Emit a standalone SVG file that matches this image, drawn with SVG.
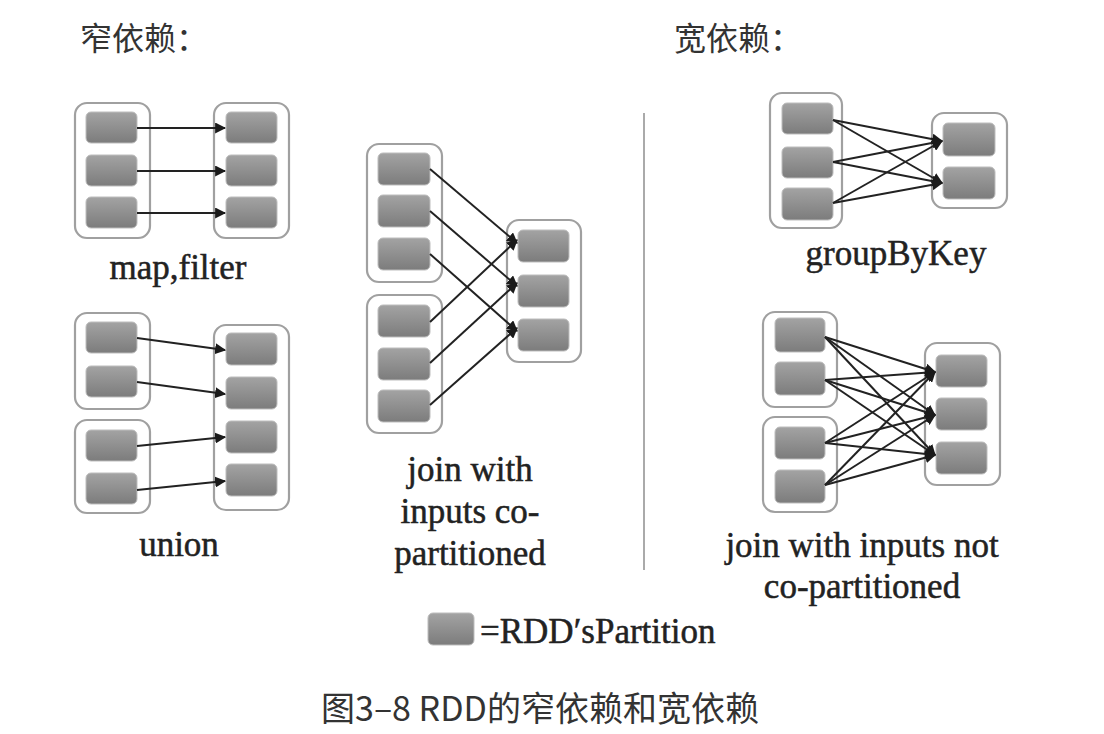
<svg xmlns="http://www.w3.org/2000/svg" width="1104" height="734" viewBox="0 0 1104 734">
<defs>
<linearGradient id="pg" x1="0" y1="0" x2="0" y2="1">
<stop offset="0" stop-color="#a3a3a3"/>
<stop offset="1" stop-color="#7c7c7c"/>
</linearGradient>
<marker id="ah" viewBox="0 0 10 10" refX="9" refY="5" markerWidth="5.5" markerHeight="5.5" orient="auto" markerUnits="strokeWidth">
<path d="M0,0 L10,5 L0,10 z" fill="#1a1a1a"/>
</marker>
<style>
.c{fill:#fff;stroke:#a0a0a0;stroke-width:2.2}
.p{fill:url(#pg);stroke:#bdbdbd;stroke-width:1}
.e{stroke:#222;stroke-width:2;fill:none;marker-end:url(#ah)}
.t{font-family:"Liberation Serif","Times New Roman",serif;font-size:35px;fill:#222;stroke:#222;stroke-width:0.5;text-anchor:middle}
.h{font-family:"Noto Sans CJK SC",sans-serif;font-size:32px;fill:#333}
</style>
</defs>
<rect width="1104" height="734" fill="#fff"/>

<text class="h" x="80" y="50">窄依赖：</text>
<text class="h" x="674" y="50">宽依赖：</text>

<!-- map,filter -->
<g id="mapfilter-src">
<rect class="c" x="75" y="103" width="75" height="135" rx="12"/>
<rect class="p" x="86" y="112" width="51" height="31" rx="5"/>
<rect class="p" x="86" y="155" width="51" height="31" rx="5"/>
<rect class="p" x="86" y="197" width="51" height="31" rx="5"/>
</g>
<g id="mapfilter-dst">
<rect class="c" x="214" y="103" width="75" height="135" rx="12"/>
<rect class="p" x="226" y="112" width="51" height="31" rx="5"/>
<rect class="p" x="226" y="155" width="51" height="31" rx="5"/>
<rect class="p" x="226" y="197" width="51" height="31" rx="5"/>
</g>

<!-- union -->
<g id="union-src1">
<rect class="c" x="75" y="313" width="75" height="96" rx="12"/>
<rect class="p" x="86" y="322" width="51" height="31" rx="5"/>
<rect class="p" x="86" y="366" width="51" height="31" rx="5"/>
</g>
<g id="union-src2">
<rect class="c" x="75" y="420" width="75" height="93" rx="12"/>
<rect class="p" x="86" y="430" width="51" height="31" rx="5"/>
<rect class="p" x="86" y="473" width="51" height="31" rx="5"/>
</g>
<g id="union-dst">
<rect class="c" x="214" y="325" width="75" height="185" rx="12"/>
<rect class="p" x="226" y="333" width="51" height="32" rx="5"/>
<rect class="p" x="226" y="377" width="51" height="32" rx="5"/>
<rect class="p" x="226" y="421" width="51" height="32" rx="5"/>
<rect class="p" x="226" y="464" width="51" height="32" rx="5"/>
</g>

<!-- join co-partitioned -->
<g id="joinco-src1">
<rect class="c" x="367" y="144" width="75" height="138" rx="12"/>
<rect class="p" x="378" y="153" width="52" height="32" rx="5"/>
<rect class="p" x="378" y="195" width="52" height="32" rx="5"/>
<rect class="p" x="378" y="238" width="52" height="32" rx="5"/>
</g>
<g id="joinco-src2">
<rect class="c" x="367" y="295" width="75" height="138" rx="12"/>
<rect class="p" x="378" y="305" width="52" height="32" rx="5"/>
<rect class="p" x="378" y="348" width="52" height="32" rx="5"/>
<rect class="p" x="378" y="390" width="52" height="32" rx="5"/>
</g>
<g id="joinco-dst">
<rect class="c" x="507" y="220" width="74" height="142" rx="12"/>
<rect class="p" x="518" y="230" width="51" height="32" rx="5"/>
<rect class="p" x="518" y="275" width="51" height="32" rx="5"/>
<rect class="p" x="518" y="319" width="51" height="32" rx="5"/>
</g>

<!-- groupByKey -->
<g id="gbk-src">
<rect class="c" x="770" y="93" width="72" height="135" rx="12"/>
<rect class="p" x="782" y="103" width="51" height="31" rx="5"/>
<rect class="p" x="782" y="147" width="51" height="31" rx="5"/>
<rect class="p" x="782" y="188" width="51" height="32" rx="5"/>
</g>
<g id="gbk-dst">
<rect class="c" x="932" y="113" width="75" height="95" rx="12"/>
<rect class="p" x="943" y="123" width="52" height="33" rx="5"/>
<rect class="p" x="943" y="167" width="52" height="32" rx="5"/>
</g>

<!-- join not co-partitioned -->
<g id="joinnc-src1">
<rect class="c" x="763" y="312" width="74" height="95" rx="12"/>
<rect class="p" x="775" y="318" width="50" height="34" rx="5"/>
<rect class="p" x="775" y="362" width="50" height="33" rx="5"/>
</g>
<g id="joinnc-src2">
<rect class="c" x="763" y="417" width="74" height="95" rx="12"/>
<rect class="p" x="775" y="427" width="50" height="32" rx="5"/>
<rect class="p" x="775" y="470" width="50" height="33" rx="5"/>
</g>
<g id="joinnc-dst">
<rect class="c" x="925" y="343" width="75" height="142" rx="12"/>
<rect class="p" x="936" y="355" width="51" height="32" rx="5"/>
<rect class="p" x="936" y="398" width="51" height="32" rx="5"/>
<rect class="p" x="936" y="442" width="51" height="32" rx="5"/>
</g>

<g id="connectors">
<line class="e" x1="137" y1="128" x2="225" y2="128"/>
<line class="e" x1="137" y1="171" x2="225" y2="171"/>
<line class="e" x1="137" y1="213" x2="225" y2="213"/>

<line class="e" x1="137" y1="338" x2="225" y2="350"/>
<line class="e" x1="137" y1="382" x2="225" y2="394"/>
<line class="e" x1="137" y1="446" x2="225" y2="437"/>
<line class="e" x1="137" y1="490" x2="225" y2="481"/>

<line class="e" x1="430" y1="169" x2="517" y2="243"/>
<line class="e" x1="430" y1="211" x2="517" y2="286"/>
<line class="e" x1="430" y1="254" x2="517" y2="331"/>
<line class="e" x1="430" y1="322" x2="517" y2="240"/>
<line class="e" x1="430" y1="363" x2="517" y2="283"/>
<line class="e" x1="430" y1="405" x2="517" y2="328"/>

<line class="e" x1="833" y1="120" x2="942" y2="141"/>
<line class="e" x1="833" y1="120" x2="942" y2="183"/>
<line class="e" x1="833" y1="162" x2="942" y2="141"/>
<line class="e" x1="833" y1="162" x2="942" y2="183"/>
<line class="e" x1="833" y1="203" x2="942" y2="141"/>
<line class="e" x1="833" y1="203" x2="942" y2="183"/>

<line class="e" x1="825" y1="337" x2="935" y2="372"/>
<line class="e" x1="825" y1="337" x2="935" y2="415"/>
<line class="e" x1="825" y1="337" x2="935" y2="455"/>
<line class="e" x1="825" y1="380" x2="935" y2="372"/>
<line class="e" x1="825" y1="380" x2="935" y2="415"/>
<line class="e" x1="825" y1="380" x2="935" y2="455"/>
<line class="e" x1="825" y1="443" x2="935" y2="372"/>
<line class="e" x1="825" y1="443" x2="935" y2="415"/>
<line class="e" x1="825" y1="443" x2="935" y2="455"/>
<line class="e" x1="825" y1="485" x2="935" y2="372"/>
<line class="e" x1="825" y1="485" x2="935" y2="415"/>
<line class="e" x1="825" y1="485" x2="935" y2="455"/>
</g>

<line x1="644" y1="113" x2="644" y2="570" stroke="#aaa" stroke-width="2"/>

<text class="t" x="178" y="279">map,filter</text>
<text class="t" x="179" y="556">union</text>
<text class="t" x="470" y="481">join with</text>
<text class="t" x="470" y="523">inputs co-</text>
<text class="t" x="470" y="565">partitioned</text>
<text class="t" x="896" y="265">groupByKey</text>
<text class="t" x="862" y="557">join with inputs not</text>
<text class="t" x="862" y="598">co-partitioned</text>

<g id="legend">
<rect class="p" x="428" y="613" width="46" height="32" rx="5"/>
<text x="480" y="643" style="font-family:'Liberation Serif','Times New Roman',serif;font-size:35px;fill:#222;stroke:#222;stroke-width:0.5">=RDD′sPartition</text>
</g>

<text x="540" y="721" text-anchor="middle" style="font-family:'Noto Sans CJK SC',sans-serif;font-size:34px;fill:#333">图3–8 RDD的窄依赖和宽依赖</text>
</svg>
